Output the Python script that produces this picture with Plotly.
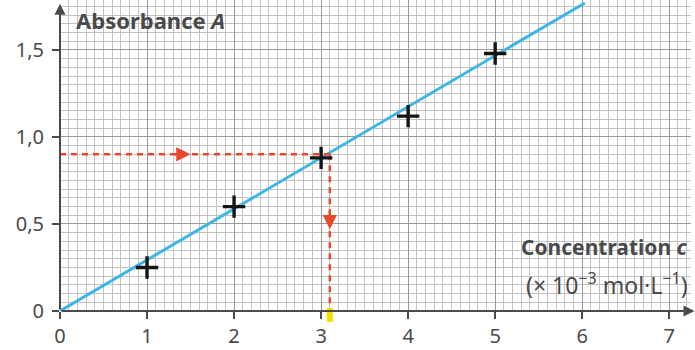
import plotly.graph_objects as go

conc = [1, 2, 3, 4, 5]
absorb = [0.25, 0.60, 0.88, 1.12, 1.48]
line_c = [0, 6.03]
line_A = [0, 1.77]
read_A = 0.90
read_c = 3.10
x_tickvals = [0, 1, 2, 3, 4, 5, 6, 7]
x_ticktext = ["0", "1", "2", "3", "4", "5", "6", "7"]
y_tickvals = [0, 0.5, 1.0, 1.5]
y_ticktext = ["0", "0,5", "1,0", "1,5"]

FONT = "Noto Sans"
GRAY = "#4a4a4a"
RED = "#e8482c"

fig = go.Figure()
fig.add_trace(go.Scatter(x=line_c, y=line_A, mode="lines",
                         line=dict(color="#3db5e6", width=3), hoverinfo="skip"))
fig.add_trace(go.Scatter(x=[0, read_c], y=[read_A, read_A], mode="lines",
                         line=dict(color=RED, width=2.5, dash="6px,5px"), hoverinfo="skip"))
fig.add_trace(go.Scatter(x=[read_c, read_c], y=[read_A, 0], mode="lines",
                         line=dict(color=RED, width=2.5, dash="6px,5px"), hoverinfo="skip"))
fig.add_trace(go.Scatter(x=conc, y=absorb, mode="markers",
                         marker=dict(symbol="cross-thin", size=16,
                                     line=dict(color="#151515", width=3.4))))

fig.update_layout(
    width=695, height=350,
    margin=dict(l=60, r=4, t=0, b=39),
    plot_bgcolor="white", paper_bgcolor="white",
    showlegend=False,
    font=dict(family=FONT, color=GRAY, size=20),
    xaxis=dict(range=[0, 7.25], tickvals=x_tickvals, ticktext=x_ticktext,
               showgrid=True, gridcolor="#999999", gridwidth=1.3,
               ticks="outside", ticklen=7, tickcolor=GRAY, tickwidth=1.5,
               zeroline=False, showline=False,
               minor=dict(dtick=0.1, showgrid=True, gridcolor="#c2c2c2", gridwidth=1),
               tickfont=dict(size=20, color=GRAY)),
    yaxis=dict(range=[0, 1.787], tickvals=y_tickvals, ticktext=y_ticktext,
               showgrid=True, gridcolor="#999999", gridwidth=1.3,
               ticks="outside", ticklen=7, tickcolor=GRAY, tickwidth=1.5,
               zeroline=False, showline=False, ticklabelstandoff=4,
               minor=dict(dtick=0.05, showgrid=True, gridcolor="#c2c2c2", gridwidth=1),
               tickfont=dict(size=20, color=GRAY)),
)

fig.add_annotation(x=7.29, y=0, ax=0, ay=0, xref="x", yref="y", axref="x", ayref="y",
                   text="", showarrow=True, arrowhead=2, arrowsize=1.1, arrowwidth=2,
                   arrowcolor=GRAY)
fig.add_annotation(x=0, y=1.765, ax=0, ay=0, xref="x", yref="y", axref="x", ayref="y",
                   text="", showarrow=True, arrowhead=2, arrowsize=1.1, arrowwidth=2,
                   arrowcolor=GRAY)
fig.add_annotation(x=1.5, y=read_A, ax=1.3, ay=read_A, xref="x", yref="y", axref="x", ayref="y",
                   text="", showarrow=True, arrowhead=2, arrowsize=1.3, arrowwidth=2.2,
                   arrowcolor=RED)
fig.add_annotation(x=read_c, y=0.47, ax=read_c, ay=0.58, xref="x", yref="y", axref="x", ayref="y",
                   text="", showarrow=True, arrowhead=2, arrowsize=1.3, arrowwidth=2.2,
                   arrowcolor=RED)
fig.add_shape(type="rect", xref="x", yref="paper", x0=read_c - 0.035, x1=read_c + 0.035,
              y0=-0.035, y1=0.01, fillcolor="#f7e000", line=dict(width=0))

fig.add_annotation(x=0.16, y=1.67, xref="x", yref="y", xanchor="left", yanchor="middle",
                   text="<b>Absorbance <i>A</i></b>", showarrow=False,
                   font=dict(size=22, color=GRAY, family=FONT))
fig.add_annotation(x=7.24, y=0.365, xref="x", yref="y", xanchor="right", yanchor="middle",
                   text="<b>Concentration <i>c</i></b>", showarrow=False,
                   font=dict(size=21, color=GRAY, family=FONT))
fig.add_annotation(x=7.24, y=0.155, xref="x", yref="y", xanchor="right", yanchor="middle",
                   text="(× 10<sup>−3</sup> mol·L<sup>−1</sup>)", showarrow=False,
                   font=dict(size=23, color=GRAY, family=FONT))

fig.write_html("out.html", config={"displayModeBar": False},
               post_script="document.body.style.margin='0';")
